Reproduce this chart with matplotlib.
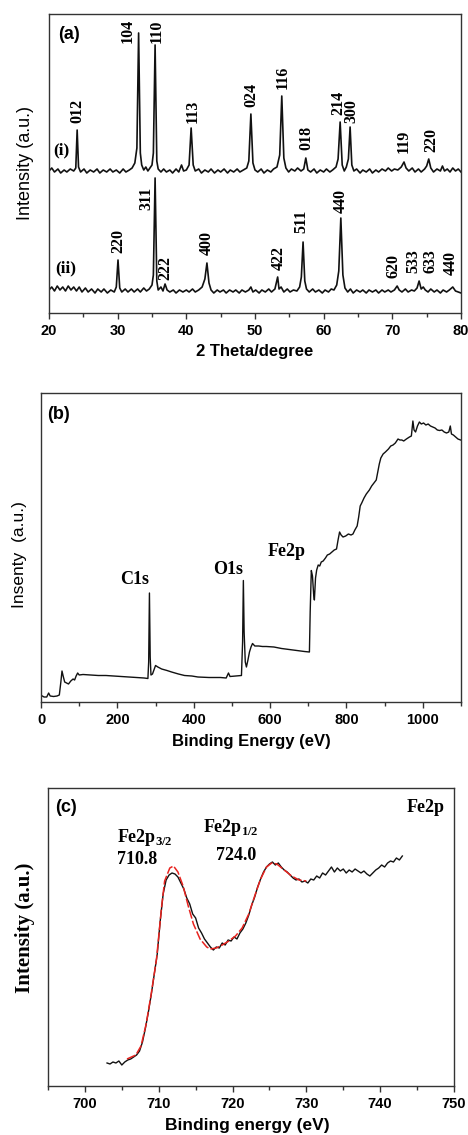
import numpy as np
import matplotlib
matplotlib.use('Agg')
import matplotlib.pyplot as plt
from matplotlib.ticker import MultipleLocator

plt.rcParams['mathtext.fontset'] = 'custom'
plt.rcParams['mathtext.rm'] = 'Liberation Serif:bold'
plt.rcParams['mathtext.bf'] = 'Liberation Serif:bold'

SANS = 'Liberation Sans'
SERIF = 'Liberation Serif'

# ---- (a) XRD: two patterns, heights above own baseline ----
xrd_i_x = [20.0, 20.4, 20.8, 21.3, 21.7, 22.2, 22.6, 23.1, 23.6, 23.9, 24.1, 24.3, 24.6, 25.1, 25.5,
           26.0, 26.5, 27.0, 27.4, 27.9, 28.4, 28.9, 29.3, 29.8, 30.3, 30.8, 31.2, 31.7, 32.1, 32.5,
           32.8, 33.05, 33.3, 33.5, 33.8, 34.1, 34.4, 34.7, 35.0, 35.2, 35.45, 35.7, 35.9, 36.3, 36.7,
           37.1, 37.6, 38.0, 38.5, 38.9, 39.3, 39.6, 40.0, 40.4, 40.7, 41.0, 41.3, 41.8, 42.2, 42.7,
           43.2, 43.6, 44.1, 44.6, 45.0, 45.5, 46.0, 46.4, 46.9, 47.4, 47.8, 48.3, 48.8, 49.1, 49.4,
           49.7, 50.0, 50.4, 50.9, 51.3, 51.8, 52.3, 52.7, 53.2, 53.6, 53.9, 54.2, 54.5, 54.9, 55.3,
           55.8, 56.2, 56.7, 57.1, 57.4, 57.7, 58.1, 58.6, 59.0, 59.5, 60.0, 60.4, 60.9, 61.3, 61.8,
           62.1, 62.4, 62.7, 63.0, 63.3, 63.6, 63.85, 64.1, 64.4, 64.8, 65.3, 65.7, 66.2, 66.7, 67.1,
           67.6, 68.0, 68.5, 69.0, 69.4, 69.9, 70.3, 70.8, 71.3, 71.7, 72.0, 72.4, 72.9, 73.3, 73.8,
           74.2, 74.7, 75.0, 75.3, 75.6, 76.0, 76.5, 77.0, 77.3, 77.6, 78.0, 78.4, 78.8, 79.2, 79.6, 80.0]
xrd_i_y = [2, 5, 1, 4, 0, 3, 1, 4, 2, 5, 43, 6, 1, 4, 0,
           3, 1, 4, 0, 3, 1, 4, 1, 3, 0, 4, 1, 3, 5, 10,
           25, 140, 20, 8, 3, 6, 2, 5, 8, 20, 128, 12, 4, 1, 4,
           1, 3, 0, 4, 1, 8, 2, 3, 8, 45, 8, 2, 4, 0, 3,
           1, 4, 0, 3, 1, 4, 0, 3, 1, 4, 1, 3, 5, 12, 59,
           10, 3, 1, 4, 0, 3, 1, 4, 6, 18, 77, 15, 5, 1, 4,
           2, 5, 2, 4, 15, 3, 1, 4, 0, 3, 1, 4, 1, 3, 6,
           14, 51, 8, 2, 6, 14, 46, 8, 2, 4, 0, 3, 1, 4, 0,
           3, 1, 4, 2, 5, 2, 4, 3, 6, 11, 5, 2, 5, 1, 4,
           1, 4, 7, 14, 5, 1, 4, 2, 7, 2, 4, 1, 5, 2, 4, 1]

xrd_ii_x = [20.0, 20.4, 20.8, 21.2, 21.6, 22.0, 22.4, 22.8, 23.2, 23.6, 24.0, 24.4, 24.8, 25.3, 25.7,
            26.2, 26.7, 27.1, 27.6, 28.0, 28.5, 29.0, 29.5, 29.8, 30.05, 30.3, 30.6, 31.1, 31.5, 32.0,
            32.4, 32.9, 33.3, 33.8, 34.2, 34.6, 35.0, 35.2, 35.45, 35.7, 35.9, 36.3, 36.6, 36.9, 37.2,
            37.6, 38.1, 38.5, 39.0, 39.5, 40.0, 40.4, 40.9, 41.3, 41.8, 42.3, 42.7, 43.0, 43.3, 43.6,
            44.0, 44.5, 44.9, 45.4, 45.8, 46.3, 46.8, 47.2, 47.7, 48.1, 48.6, 49.1, 49.4, 49.7, 50.1,
            50.6, 51.0, 51.5, 52.0, 52.4, 52.9, 53.3, 53.5, 53.8, 54.2, 54.7, 55.1, 55.6, 56.1, 56.5,
            56.75, 57.0, 57.25, 57.5, 57.9, 58.4, 58.8, 59.3, 59.8, 60.2, 60.7, 61.1, 61.5, 61.9, 62.2,
            62.5, 62.8, 63.1, 63.5, 63.9, 64.3, 64.8, 65.3, 65.7, 66.2, 66.6, 67.1, 67.6, 68.0, 68.5,
            68.9, 69.4, 69.8, 70.3, 70.7, 71.0, 71.4, 71.9, 72.3, 72.8, 73.2, 73.6, 73.9, 74.2, 74.5,
            74.8, 75.2, 75.6, 76.1, 76.5, 77.0, 77.4, 77.9, 78.3, 78.8, 79.2, 79.6, 80.0]
xrd_ii_y = [3, 6, 2, 7, 3, 6, 2, 7, 3, 6, 2, 6, 1, 5, 1,
            4, 0, 4, 1, 4, 0, 3, 1, 6, 33, 5, 1, 4, 1, 4,
            1, 4, 1, 5, 2, 4, 8, 18, 115, 12, 3, 6, 2, 9, 3,
            1, 3, 0, 3, 1, 3, 1, 4, 1, 3, 6, 14, 30, 10, 3,
            0, 3, 1, 3, 0, 3, 1, 3, 0, 3, 1, 3, 6, 1, 3,
            0, 3, 1, 4, 1, 4, 16, 4, 6, 1, 4, 1, 3, 2, 6,
            16, 51, 12, 4, 1, 4, 1, 3, 0, 3, 1, 4, 3, 8, 22,
            75, 18, 5, 1, 4, 0, 3, 1, 3, 0, 3, 1, 3, 0, 3,
            1, 3, 1, 3, 7, 3, 1, 4, 1, 3, 2, 5, 12, 4, 6,
            3, 1, 4, 1, 3, 0, 3, 1, 3, 6, 2, 1, 0]

offset_i = 140
offset_ii = 20

labels_i = ['012', '104', '110', '113', '024', '116', '018', '214', '300', '119', '220']
labels_i_x = [24.1, 31.5, 35.7, 40.9, 49.5, 54.0, 57.5, 62.1, 64.1, 71.7, 75.7]
labels_i_y = [190, 270, 270, 190, 206, 224, 163, 198, 190, 160, 161]
labels_ii = ['220', '311', '222', '400', '422', '511', '440', '620', '533', '633', '440']
labels_ii_x = [30.1, 34.2, 36.9, 43.0, 53.4, 56.8, 62.5, 70.1, 73.0, 75.6, 78.5]
labels_ii_y = [60, 103, 33, 58, 43, 80, 100, 35, 40, 40, 38]

# ---- (b) XPS survey ----
survey_x = [0, 8, 15, 20, 24, 33, 42, 48, 52, 55, 58, 62, 67, 72, 78, 84, 88, 92, 96, 100,
            110, 130, 150, 170, 190, 210, 230, 250, 270, 280, 282, 284, 286, 288, 292, 300, 306, 316,
            330, 342, 360, 376, 395, 411, 440, 470, 485, 491, 495, 510, 525, 528, 530, 532, 535, 538,
            542, 546, 550, 554, 560, 570, 580, 590, 610, 630, 650, 670, 690, 703, 705, 708, 711, 714,
            716, 719, 722, 726, 730, 734, 739, 745, 750, 756, 762, 768, 774, 778, 782, 786, 791, 798,
            805, 812, 817, 822, 828, 832, 836, 840, 846, 852, 860, 866, 872, 878, 882, 886, 890, 896,
            902, 910, 916, 922, 928, 935, 940, 945, 950, 957, 965, 970, 974, 977, 981, 986, 991, 996,
            1002, 1008, 1014, 1020, 1026, 1032, 1038, 1044, 1050, 1056, 1062, 1068, 1072, 1075, 1080,
            1086, 1092, 1099]
survey_y = [6.7, 5, 5, 9, 6, 5.5, 6, 7, 20, 31, 26, 20, 19, 18, 21, 23, 22, 26, 29, 27,
            27.5, 27, 26.5, 26.5, 26, 25.5, 25, 24.5, 24, 23.5, 40, 109, 45, 27, 28, 36.5, 35, 33,
            31.5, 30, 28, 26.5, 26, 25, 24.5, 24.5, 24, 29, 25.5, 26, 26.5, 60, 121.5, 70, 40, 35,
            42, 50, 55, 58.5, 56, 56, 55.5, 55.5, 55, 53.5, 52.5, 51.5, 50.5, 50, 90, 131.5, 126, 108,
            102, 124, 132, 137, 136, 140, 141, 144, 147, 148, 150, 152, 153, 162, 170, 167, 165, 166,
            168, 167, 168, 172, 176, 185, 196, 199, 204, 208, 212, 216, 219, 222, 230, 238, 244, 248,
            250, 253, 256, 257, 259, 263, 262, 262, 261, 263, 265, 266, 281, 272, 270, 276, 280, 278,
            279, 277, 278, 276, 275, 274, 272, 271.5, 272, 270, 269, 270, 276, 268, 267,
            265, 263, 262]

# ---- (c) Fe2p high resolution ----
fe_x = [703.0, 703.4, 703.8, 704.2, 704.6, 705.0, 705.4, 705.8, 706.2, 706.6, 707.0, 707.4, 707.8,
        708.2, 708.6, 709.0, 709.4, 709.8, 710.2, 710.6, 711.0, 711.4, 711.8, 712.2, 712.6, 713.0,
        713.4, 713.8, 714.2, 714.6, 715.0, 715.4, 715.8, 716.2, 716.6, 717.0, 717.4, 717.8, 718.2,
        718.6, 719.0, 719.4, 719.8, 720.2, 720.6, 721.0, 721.4, 721.8, 722.2, 722.6, 723.0, 723.4,
        723.8, 724.2, 724.6, 725.0, 725.4, 725.8, 726.2, 726.6, 727.0, 727.4, 727.8, 728.2, 728.6,
        729.0, 729.4, 729.8, 730.2, 730.6, 731.0, 731.4, 731.8, 732.2, 732.6, 733.0, 733.4, 733.8,
        734.2, 734.6, 735.0, 735.4, 735.8, 736.2, 736.6, 737.0, 737.4, 737.8, 738.2, 738.6, 739.0,
        739.4, 739.8, 740.2, 740.6, 741.0, 741.4, 741.8, 742.2, 742.6, 743.0]
fe_y = [23, 22, 24, 23, 25, 21, 24, 26, 27, 29, 31, 35, 44,
        58, 74, 92, 112, 132, 165, 192, 206, 211, 213, 212, 209, 203,
        197, 188, 182, 172, 168, 158, 153, 147, 143, 139, 136, 139, 138,
        143, 141, 146, 145, 149, 147, 153, 157, 163, 171, 181, 189, 199,
        207, 214, 219, 222, 224, 221, 223, 219, 216, 214, 211, 208, 206,
        207, 204, 205, 203, 207, 206, 210, 208, 213, 211, 215, 219, 214,
        218, 215, 217, 213, 216, 214, 217, 215, 213, 215, 212, 210, 213,
        216, 218, 221, 219, 223, 225, 224, 228, 226, 230]
fit_x = [705.7, 706.9, 707.6, 708.3, 709.0, 709.7, 710.4, 710.8, 711.5, 712.0, 712.6, 713.3, 714.0,
         714.7, 715.6, 716.5, 717.0, 717.8, 718.6, 719.5, 720.4, 721.3, 722.2, 723.0, 723.8, 724.6,
         725.3, 726.0, 727.0, 728.0, 729.0, 730.0]
fit_y = [27, 31, 40, 62, 93, 127, 180, 205, 218, 220, 214, 200, 180,
         162, 147, 139, 137, 138, 141, 145, 150, 158, 172, 190, 207, 219,
         223, 222, 216, 210, 206, 205]

W, H = 468, 1135
fig = plt.figure(figsize=(W / 100, H / 100), dpi=100)


def box(l, t, r, b):
    return [l / W, 1 - b / H, (r - l) / W, (b - t) / H]


def style(ax):
    for s in ax.spines.values():
        s.set_color('#333333')
        s.set_linewidth(1.0)
    ax.set_yticks([])
    ax.tick_params(axis='x', which='both', direction='out', color='#333333', pad=4)
    ax.tick_params(axis='x', which='major', length=4, width=1)
    ax.tick_params(axis='x', which='minor', length=3, width=1)
    for t in ax.get_xticklabels():
        t.set_fontfamily(SANS)
        t.set_fontweight('bold')
        t.set_fontsize(10.5)


# (a)
ax1 = fig.add_axes(box(49, 14, 461, 313))
ax1.plot(xrd_i_x, np.array(xrd_i_y) + offset_i, color='#111111', lw=1.2)
ax1.plot(xrd_ii_x, np.array(xrd_ii_y) + offset_ii, color='#111111', lw=1.2)
ax1.set_xlim(20, 80)
ax1.set_ylim(0, 299)
ax1.xaxis.set_major_locator(MultipleLocator(10))
ax1.xaxis.set_minor_locator(MultipleLocator(5))
style(ax1)
for lab, x, y in zip(labels_i + labels_ii, labels_i_x + labels_ii_x, labels_i_y + labels_ii_y):
    ax1.text(x, y, lab, rotation=90, ha='center', va='bottom', family=SERIF,
             weight='bold', fontsize=11.5)
ax1.text(0.022, 0.93, '(a)', transform=ax1.transAxes, family=SANS, weight='bold',
         fontsize=13, va='center')
ax1.text(0.01, 0.545, '(i)', transform=ax1.transAxes, family=SERIF, weight='bold',
         fontsize=12.5, va='center')
ax1.text(0.015, 0.15, '(ii)', transform=ax1.transAxes, family=SERIF, weight='bold',
         fontsize=12.5, va='center')
ax1.set_xlabel('2 Theta/degree', family=SANS, weight='bold', fontsize=12)
ax1.xaxis.set_label_coords(0.5, -0.13)
ax1.xaxis.label.set_va('center')
ax1.set_ylabel('Intensity (a.u.)', family=SANS, fontsize=13)
ax1.yaxis.set_label_coords(-0.058, 0.5)
ax1.yaxis.label.set_va('center')

# (b)
ax2 = fig.add_axes(box(41, 393, 461, 702))
ax2.plot(survey_x, survey_y, color='#111111', lw=1.0)
ax2.set_xlim(0, 1100)
ax2.set_ylim(0, 309)
ax2.xaxis.set_major_locator(MultipleLocator(200))
ax2.xaxis.set_minor_locator(MultipleLocator(100))
style(ax2)
ax2.text(0.014, 0.929, '(b)', transform=ax2.transAxes, family=SANS, weight='bold',
         fontsize=13, va='center')
for lab, x, y in [('C1s', 246, 122), ('O1s', 489, 133), ('Fe2p', 643, 151)]:
    ax2.text(x, y, lab, ha='center', va='center', family=SERIF, weight='bold', fontsize=13)
ax2.set_xlabel('Binding Energy (eV)', family=SANS, weight='bold', fontsize=12)
ax2.xaxis.set_label_coords(0.5, -0.129)
ax2.xaxis.label.set_va('center')
ax2.set_ylabel('Insenty  (a.u.)', family=SANS, fontsize=12.5)
ax2.yaxis.set_label_coords(-0.05, 0.477)
ax2.yaxis.label.set_va('center')

# (c)
ax3 = fig.add_axes(box(48, 788, 454, 1086))
ax3.plot(fe_x, fe_y, color='#111111', lw=1.0)
ax3.plot(fit_x, fit_y, color='#e8231f', lw=1.1, dashes=(6, 1.5))
ax3.set_xlim(695, 750)
ax3.set_ylim(0, 298)
ax3.xaxis.set_major_locator(MultipleLocator(10))
ax3.xaxis.set_minor_locator(MultipleLocator(5))
style(ax3)
ax3.text(0.017, 0.936, '(c)', transform=ax3.transAxes, family=SANS, weight='bold',
         fontsize=13, va='center')
ax3.text(0.978, 0.936, 'Fe2p', transform=ax3.transAxes, family=SERIF, weight='bold',
         fontsize=13, va='center', ha='right')
ax3.text(704.3, 249, r'Fe2p$_{3/2}$', family=SERIF, weight='bold', fontsize=13, va='center')
ax3.text(704.3, 226, '710.8', family=SERIF, weight='bold', fontsize=13, va='center')
ax3.text(716.0, 258, r'Fe2p$_{1/2}$', family=SERIF, weight='bold', fontsize=13, va='center')
ax3.text(717.8, 231, '724.0', family=SERIF, weight='bold', fontsize=13, va='center')
ax3.set_xlabel('Binding energy (eV)', family=SANS, weight='bold', fontsize=12.5)
ax3.xaxis.set_label_coords(0.49, -0.131)
ax3.xaxis.label.set_va('center')
ax3.set_ylabel('Intensity (a.u.)', family=SERIF, weight='bold', fontsize=15)
ax3.yaxis.set_label_coords(-0.057, 0.53)
ax3.yaxis.label.set_va('center')

fig.savefig('out.png', dpi=100)
